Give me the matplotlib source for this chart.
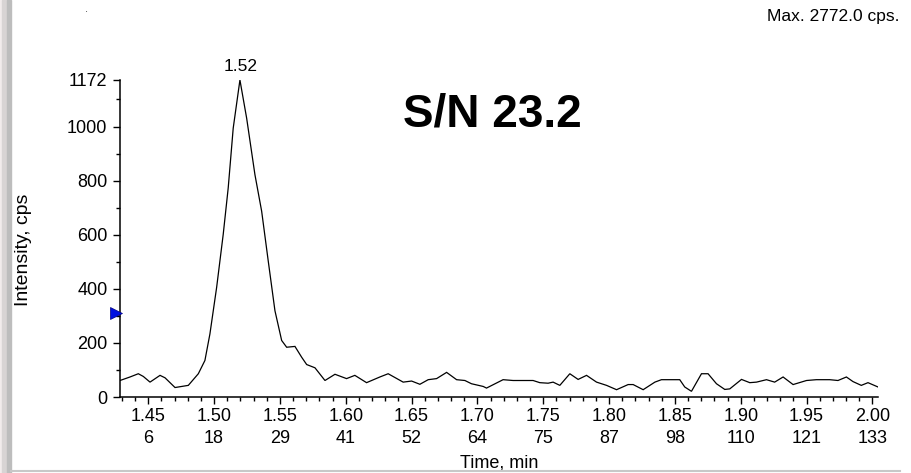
import matplotlib
matplotlib.use("Agg")
import matplotlib.pyplot as plt
import matplotlib.transforms as mtransforms
from matplotlib.patches import Rectangle
from matplotlib.lines import Line2D

plt.rcParams['font.family'] = ['Liberation Sans', 'DejaVu Sans']

# ---- data ----
time_min = [1.4285, 1.4361, 1.4424, 1.4462, 1.4513, 1.4589, 1.4627, 1.4703, 1.4804, 1.4880,
            1.4930, 1.4968, 1.5019, 1.5069, 1.5107, 1.5145, 1.5196, 1.5247, 1.5310, 1.5361,
            1.5411, 1.5462, 1.5513, 1.5551, 1.5614, 1.5665, 1.5703, 1.5766, 1.5842, 1.5918,
            1.6006, 1.6069, 1.6158, 1.6259, 1.6322, 1.6436, 1.6500, 1.6563, 1.6626, 1.6690,
            1.6766, 1.6842, 1.6905, 1.6955, 1.7044, 1.7069, 1.7195, 1.7271, 1.7423, 1.7474,
            1.7537, 1.7575, 1.7626, 1.7702, 1.7765, 1.7829, 1.7905, 1.7981, 1.8057, 1.8145,
            1.8183, 1.8259, 1.8348, 1.8398, 1.8537, 1.8575, 1.8626, 1.8702, 1.8752, 1.8816,
            1.8879, 1.8917, 1.9006, 1.9069, 1.9120, 1.9196, 1.9258, 1.9322, 1.9398, 1.9500,
            1.9575, 1.9676, 1.9739, 1.9803, 1.9853, 1.9916, 1.9967, 2.0043]
intensity_cps = [61, 74, 86, 76, 55, 80, 71, 35, 43, 86,
                 135, 233, 405, 601, 773, 994, 1172, 1031, 822, 687,
                 503, 319, 209, 184, 187, 147, 120, 108, 61, 84,
                 68, 80, 53, 74, 86, 55, 59, 47, 64, 68,
                 91, 64, 61, 49, 39, 33, 64, 61, 61, 53,
                 51, 55, 43, 86, 65, 80, 55, 43, 27, 46,
                 46, 27, 55, 64, 64, 37, 21, 86, 86, 49,
                 28, 30, 65, 53, 55, 64, 55, 74, 46, 61,
                 64, 64, 61, 74, 57, 43, 53, 37]

x_major = [1.45, 1.50, 1.55, 1.60, 1.65, 1.70, 1.75, 1.80, 1.85, 1.90, 1.95, 2.00]
scan_numbers = [6, 18, 29, 41, 52, 64, 75, 87, 98, 110, 121, 133]
x_minor = [1.43, 1.44, 1.46, 1.47, 1.48, 1.49, 1.51, 1.52, 1.53, 1.54, 1.56, 1.57, 1.58, 1.59,
           1.61, 1.62, 1.63, 1.64, 1.66, 1.67, 1.68, 1.69, 1.71, 1.72, 1.73, 1.74,
           1.76, 1.77, 1.78, 1.79, 1.81, 1.82, 1.83, 1.84, 1.86, 1.87, 1.88, 1.89,
           1.91, 1.92, 1.93, 1.94, 1.96, 1.97, 1.98, 1.99]
y_major = [0, 200, 400, 600, 800, 1000, 1172]
y_minor = [100, 300, 500, 700, 900, 1100]

peak_time = 1.52
peak_label = "1.52"
threshold_marker = 310
x_range = (1.4285, 2.0043)
y_range = (0, 1172)

# ---- figure ----
W, H = 912, 473
fig = plt.figure(figsize=(W / 100, H / 100), dpi=100)
fig.patch.set_facecolor('white')

ax = fig.add_axes([120 / W, 1 - 397 / H, (878 - 120) / W, (397 - 80) / H])
ax.plot(time_min, intensity_cps, color='black', lw=0.9, solid_joinstyle='miter')
ax.set_xlim(*x_range)
ax.set_ylim(*y_range)

for s in ('top', 'right'):
    ax.spines[s].set_visible(False)
for s in ('left', 'bottom'):
    ax.spines[s].set_linewidth(1.1)

ax.set_xticks(x_major)
ax.set_xticklabels([f"{t:.2f}\n{n}" for t, n in zip(x_major, scan_numbers)],
                   linespacing=1.4)
ax.set_xticks(x_minor, minor=True)
ax.set_yticks(y_major)
ax.set_yticklabels([str(v) for v in y_major])
ax.set_yticks(y_minor, minor=True)
ax.tick_params(axis='both', which='major', labelsize=13, width=1.0, color='black')
ax.tick_params(axis='x', which='major', length=5, pad=3)
ax.tick_params(axis='y', which='major', length=5, pad=4)
ax.tick_params(axis='both', which='minor', length=3, width=1.0)

ax.set_xlabel("Time, min", fontsize=13)
ax.xaxis.set_label_coords(0.5, -(463 - 397) / 317)
ax.xaxis.label.set_va('center')
ax.set_ylabel("Intensity, cps", fontsize=14)
ax.yaxis.set_label_coords(-(120 - 24) / 758, (397 - 250) / 317)
ax.yaxis.label.set_va('center')

# peak apex label
ax.annotate(peak_label, xy=(peak_time, max(intensity_cps)), xytext=(0, 4),
            textcoords='offset points', ha='center', va='bottom', fontsize=12.5)

# threshold marker on left axis
offs = mtransforms.ScaledTranslation(-3 / 72, 0, fig.dpi_scale_trans)
ax.plot([x_range[0]], [threshold_marker], marker='>', color='#0010e0',
        markersize=8, markeredgecolor='#000080', markeredgewidth=0.5,
        clip_on=False, transform=ax.transData + offs, zorder=5)

# annotations
fig.text(492 / W, 1 - 114 / H, "S/N 23.2", fontsize=33, fontweight='bold',
         ha='center', va='center')
fig.text(900 / W, 1 - 16 / H, "Max. 2772.0 cps.", fontsize=12.5,
         ha='right', va='center')
fig.text(87 / W, 1 - 9 / H, ".", fontsize=8, ha='center', va='center', color='#404040')

# window frame pieces
fig.patches.append(Rectangle((0, 0), 2 / W, 1, transform=fig.transFigure,
                             color='#f2ecec', zorder=0))
fig.patches.append(Rectangle((2 / W, 0), 5 / W, 1, transform=fig.transFigure,
                             color='#d8d4d4', zorder=0))
fig.patches.append(Rectangle((7 / W, 0), 4 / W, 1, transform=fig.transFigure,
                             color='#bdbdbd', zorder=0))
fig.lines.append(Line2D([11 / W, 900 / W], [1 - 471 / H, 1 - 471 / H],
                        transform=fig.transFigure, color='#c8c8c8', lw=1.5))

fig.savefig("out.png", dpi=100)
